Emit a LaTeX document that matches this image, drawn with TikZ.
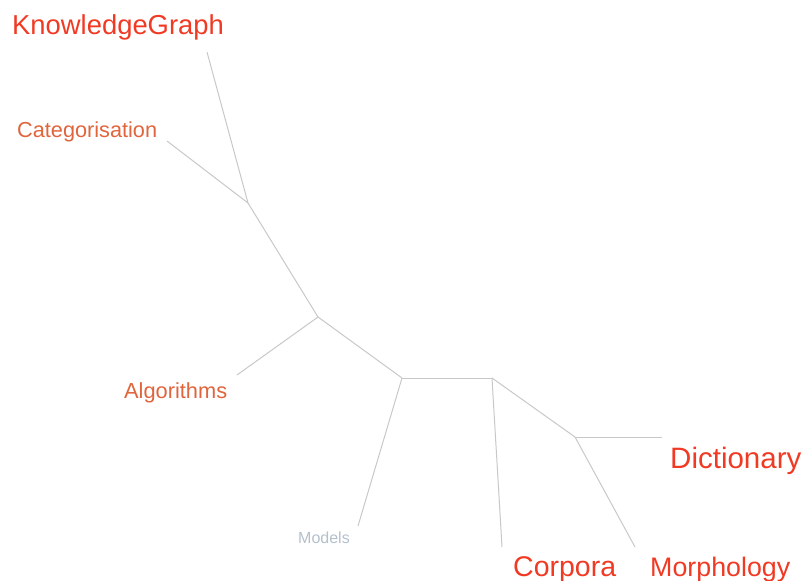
\documentclass[tikz,border=0pt]{standalone}
\usepackage{fontspec}
\setmainfont{Liberation Sans}
\usepackage{xcolor}
\usetikzlibrary{positioning,calc}

\definecolor{leafred}{RGB}{240,58,36}
\definecolor{leaforange}{RGB}{224,100,60}
\definecolor{leafgray}{RGB}{180,192,204}
\definecolor{branch}{RGB}{200,200,200}

\begin{document}
\begin{tikzpicture}[x=1pt, y=-1pt,
  leaf/.style={anchor=base west, inner sep=0pt, text=leafred},
  minor/.style={leaf, text=leaforange},
  faint/.style={leaf, text=leafgray},
  edge/.style={draw=branch, line width=1pt}
]
\useasboundingbox (0,0) rectangle (812,581);

% inner junctions of the tree
\coordinate (j1) at (248,203);
\coordinate (j2) at (318,317);
\coordinate (j3) at (402,378);
\coordinate (j4) at (492,378);
\coordinate (j5) at (575,437);

% free ends of the branches
\coordinate (tKG) at (207,52);
\coordinate (tCat) at (167,141);
\coordinate (tAlg) at (237,375);
\coordinate (tMod) at (358,526);
\coordinate (tCor) at (502,547);
\coordinate (tMor) at (635,547);
\coordinate (tDic) at (662,437);

% labels
\node [leaf, font=\fontsize{27.4}{30}\selectfont] (kg) at (12,34) {KnowledgeGraph};
\node [minor, font=\fontsize{21.7}{24}\selectfont] (cat) at (17,137) {Categorisation};
\node [minor, font=\fontsize{21.8}{24}\selectfont] (alg) at (124,398) {Algorithms};
\node [faint, font=\fontsize{16}{18}\selectfont] (mod) at (298,543) {Models};
\node [leaf, font=\fontsize{28.5}{31}\selectfont] (cor) at (513,576) {Corpora};
\node [leaf, font=\fontsize{26.8}{30}\selectfont] (mor) at (650,576) {Morphology};
\node [leaf, font=\fontsize{29.5}{32}\selectfont] (dic) at (670,468) {Dictionary};

\draw [edge] (tKG) -- (j1);
\draw [edge] (tCat) -- (j1);
\draw [edge] (j1) -- (j2);
\draw [edge] (j2) -- (tAlg);
\draw [edge] (j2) -- (j3);
\draw [edge] (j3) -- (j4);
\draw [edge] (j3) -- (tMod);
\draw [edge] (j4) -- (tCor);
\draw [edge] (j4) -- (j5);
\draw [edge] (j5) -- (tDic);
\draw [edge] (j5) -- (tMor);
\end{tikzpicture}
\end{document}
